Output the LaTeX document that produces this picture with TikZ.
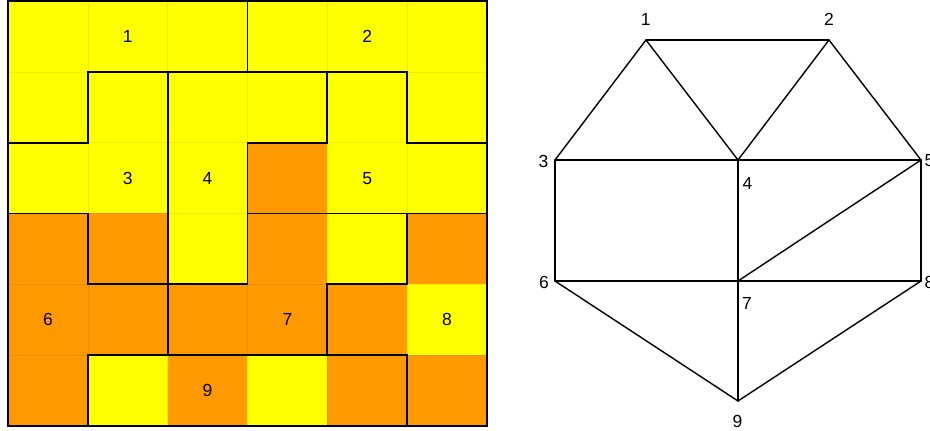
\documentclass[tikz,border=0pt]{standalone}
\usepackage{fontspec}
\setmainfont{Liberation Sans}
\definecolor{cy}{HTML}{FFFF00}
\definecolor{co}{HTML}{FF9900}
\begin{document}
\begin{tikzpicture}[x=1pt,y=-1pt,
  lbl/.style={inner sep=0pt, font=\fontsize{17.5}{17.5}\selectfont},
  region/.style={line width=1.7pt, line cap=rect, line join=miter},
  faint/.style={line width=0.6pt, black, opacity=0.07},
  edge/.style={line width=1.4pt, line cap=round}]
\useasboundingbox (0,0) rectangle (930,431);
% ---- grid ----
\begin{scope}[shift={(8,1)}, x=79.83pt, y=-70.83pt]
  \fill[cy] (0,0) rectangle (6,6);
  \foreach \c/\r in {3/2, 0/3,1/3,3/3,5/3, 0/4,1/4,2/4,3/4,4/4, 0/5,2/5,4/5,5/5}
    \fill[co] (\c,\r) rectangle ++(1,1);
  \foreach \i in {1,...,5} {
    \draw[faint] (\i,0) -- (\i,6);
    \draw[faint] (0,\i) -- (6,\i);
  }
  \draw[region] (3,0) -- (3,1);
  \draw[region] (0,2) -- (1,2) -- (1,1) -- (5,1) -- (5,2) -- (6,2);
  \draw[region] (4,1) -- (4,2) -- (3,2) -- (3,4) -- (1,4) -- (1,3) -- (0,3);
  \draw[region] (2,1) -- (2,5);
  \draw[region] (3,3) -- (6,3);
  \draw[region] (5,3) -- (5,4) -- (4,4) -- (4,5);
  \draw[region] (1,6) -- (1,5) -- (5,5) -- (5,6);
  \draw[region] (0,0) rectangle (6,6);
  \node[lbl] (g1) at (1.5,0.5) {1};
  \node[lbl] (g2) at (4.5,0.5) {2};
  \node[lbl] (g3) at (1.5,2.5) {3};
  \node[lbl] (g4) at (2.5,2.5) {4};
  \node[lbl] (g5) at (4.5,2.5) {5};
  \node[lbl] (g6) at (0.5,4.5) {6};
  \node[lbl] (g7) at (3.5,4.5) {7};
  \node[lbl] (g8) at (5.5,4.5) {8};
  \node[lbl] (g9) at (2.5,5.5) {9};
\end{scope}
% ---- graph ----
\coordinate (v1) at (646,40);
\coordinate (v2) at (829,40);
\coordinate (v3) at (555,160);
\coordinate (v4) at (738,160);
\coordinate (v5) at (921,160);
\coordinate (v6) at (555,281);
\coordinate (v7) at (738,281);
\coordinate (v8) at (921,281);
\coordinate (v9) at (738,401);
\draw[edge] (v1) -- (v2);
\draw[edge] (v1) -- (v3);
\draw[edge] (v1) -- (v4);
\draw[edge] (v2) -- (v4);
\draw[edge] (v2) -- (v5);
\draw[edge] (v3) -- (v4);
\draw[edge] (v4) -- (v5);
\draw[edge] (v3) -- (v6);
\draw[edge] (v4) -- (v7);
\draw[edge] (v5) -- (v7);
\draw[edge] (v5) -- (v8);
\draw[edge] (v6) -- (v7);
\draw[edge] (v7) -- (v8);
\draw[edge] (v6) -- (v9);
\draw[edge] (v7) -- (v9);
\draw[edge] (v8) -- (v9);
\node[lbl] (l1) at (645.7,19) {1};
\node[lbl] (l2) at (829,19) {2};
\node[lbl] (l3) at (543.5,161) {3};
\node[lbl] (l4) at (747.5,183) {4};
\node[lbl] (l5) at (929.5,161) {5};
\node[lbl] (l6) at (544,282) {6};
\node[lbl] (l7) at (747,303) {7};
\node[lbl] (l8) at (929.5,282) {8};
\node[lbl] (l9) at (737.5,421) {9};
\end{tikzpicture}
\end{document}
